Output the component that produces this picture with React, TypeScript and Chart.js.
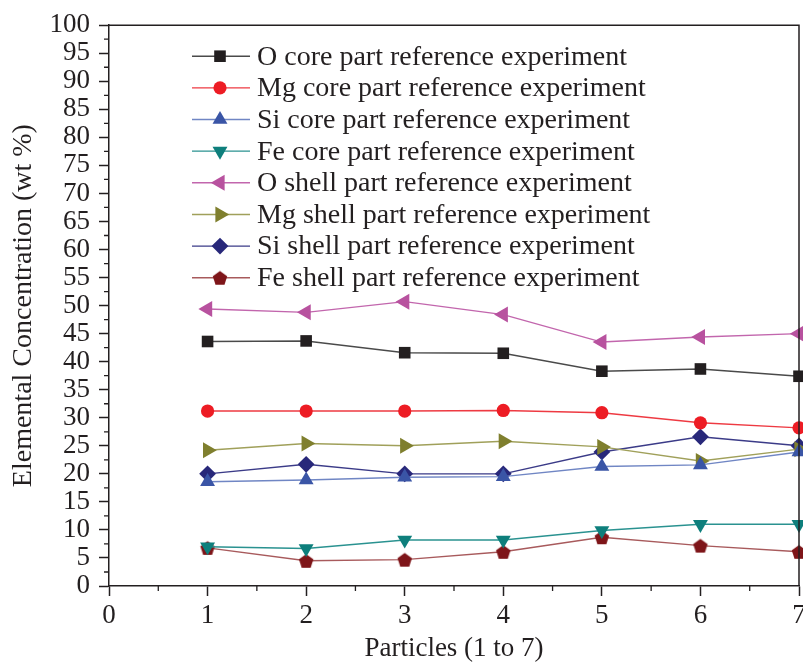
import React, { useEffect, useRef } from "react";
import { Chart, registerables } from "chart.js";

Chart.register(...registerables);

// ---- data ----
const particles = [1, 2, 3, 4, 5, 6, 7];
const xTickValues = [0, 1, 2, 3, 4, 5, 6, 7];
const seriesLabels = [
  "O core part reference experiment",
  "Mg core part reference experiment",
  "Si core part reference experiment",
  "Fe core part reference experiment",
  "O shell part reference experiment",
  "Mg shell part reference experiment",
  "Si shell part reference experiment",
  "Fe shell part reference experiment",
];
const oCore = [43.6, 43.7, 41.6, 41.5, 38.3, 38.7, 37.4];
const mgCore = [31.2, 31.2, 31.2, 31.3, 30.9, 29.1, 28.2];
const siCore = [18.6, 18.9, 19.4, 19.5, 21.3, 21.6, 23.9];
const feCore = [7.0, 6.7, 8.2, 8.2, 9.9, 11.0, 11.0];
const oShell = [49.4, 48.8, 50.7, 48.4, 43.5, 44.4, 45.0];
const mgShell = [24.2, 25.4, 25.0, 25.8, 24.8, 22.3, 24.4];
const siShell = [20.0, 21.7, 20.0, 20.0, 23.9, 26.6, 25.0];
const feShell = [6.8, 4.5, 4.7, 6.1, 8.7, 7.2, 6.1];
const seriesValues = [oCore, mgCore, siCore, feCore, oShell, mgShell, siShell, feShell];

// ---- styles ----
const markerColors = ["#231f20", "#ed1c24", "#3a55a6", "#0e7f7c", "#b8529f", "#7f7f2e", "#28287a", "#7e1519"];
const lineColors = ["#4a4a4a", "#ee3a42", "#7086c4", "#2a9290", "#c266ad", "#a0a05a", "#3b3b88", "#a85a5c"];
const markerStyles = ["rect", "circle", "triangle", "triangle", "triangle", "triangle", "rectRot", "pentagon"];
const markerRotations = [0, 0, 0, 180, -90, 90, 0, 0];
const markerRadii = [8.2, 6.6, 8.6, 8.6, 9.2, 9.2, 8.4, 7.6];

const FONT = "'Liberation Serif', 'Times New Roman', serif";
const INK = "#231f20";

function makePentagon(color: string, r: number): HTMLCanvasElement {
  const size = Math.ceil(r * 2 + 4);
  const c = document.createElement("canvas");
  c.width = size;
  c.height = size;
  const g = c.getContext("2d")!;
  g.fillStyle = color;
  g.beginPath();
  for (let i = 0; i < 5; i++) {
    const a = -Math.PI / 2 + (i * 2 * Math.PI) / 5;
    const px = size / 2 + Math.cos(a) * r;
    const py = size / 2 + 0.8 + Math.sin(a) * r;
    if (i === 0) g.moveTo(px, py);
    else g.lineTo(px, py);
  }
  g.closePath();
  g.fill();
  return c;
}

function drawMarker(ctx: CanvasRenderingContext2D, style: any, rotDeg: number, r: number, x: number, y: number, color: string) {
  ctx.save();
  ctx.fillStyle = color;
  ctx.beginPath();
  if (style instanceof HTMLCanvasElement) {
    ctx.drawImage(style, x - style.width / 2, y - style.height / 2);
    ctx.restore();
    return;
  }
  let rad = (rotDeg * Math.PI) / 180;
  if (style === "circle") {
    ctx.arc(x, y, r, 0, Math.PI * 2);
  } else if (style === "rect") {
    const s = r * Math.SQRT1_2;
    ctx.rect(x - s, y - s, 2 * s, 2 * s);
  } else if (style === "triangle") {
    ctx.moveTo(x + Math.sin(rad) * r, y - Math.cos(rad) * r);
    rad += (2 * Math.PI) / 3;
    ctx.lineTo(x + Math.sin(rad) * r, y - Math.cos(rad) * r);
    rad += (2 * Math.PI) / 3;
    ctx.lineTo(x + Math.sin(rad) * r, y - Math.cos(rad) * r);
    ctx.closePath();
  } else if (style === "rectRot") {
    ctx.moveTo(x - r, y);
    ctx.lineTo(x, y - r);
    ctx.lineTo(x + r, y);
    ctx.lineTo(x, y + r);
    ctx.closePath();
  }
  ctx.fill();
  ctx.restore();
}

const framePlugin = {
  id: "frameAndLegend",
  afterDraw(chart: any) {
    const ctx: CanvasRenderingContext2D = chart.ctx;
    const { left, right, top, bottom } = chart.chartArea;
    const xs = chart.scales.x;
    const ys = chart.scales.y;
    ctx.save();
    ctx.strokeStyle = INK;
    ctx.lineWidth = 1.5;
    // top and right frame
    ctx.beginPath();
    ctx.moveTo(left, top);
    ctx.lineTo(right, top);
    ctx.lineTo(right, bottom);
    ctx.stroke();
    // minor ticks
    ctx.lineWidth = 1.3;
    ctx.beginPath();
    for (let v = 2.5; v < 100; v += 5) {
      const py = ys.getPixelForValue(v);
      ctx.moveTo(left - 5, py);
      ctx.lineTo(left, py);
    }
    for (let v = 0.5; v < 7; v += 1) {
      const px = xs.getPixelForValue(v);
      ctx.moveTo(px, bottom);
      ctx.lineTo(px, bottom + 5);
    }
    ctx.stroke();

    // legend
    const datasets = chart.data.datasets;
    const lx0 = left + 83;
    const lx1 = left + 141;
    const mx = left + 111;
    const tx = left + 148;
    ctx.font = `28px ${FONT}`;
    ctx.textBaseline = "middle";
    ctx.textAlign = "left";
    datasets.forEach((ds: any, i: number) => {
      const y = top + 31 + i * 31.65;
      ctx.strokeStyle = ds.borderColor;
      ctx.lineWidth = 1.4;
      ctx.beginPath();
      ctx.moveTo(lx0, y);
      ctx.lineTo(lx1, y);
      ctx.stroke();
      drawMarker(ctx, ds.pointStyle, ds.rotation || 0, ds.pointRadius, mx, y, ds.pointBackgroundColor);
      ctx.fillStyle = INK;
      ctx.fillText(ds.label, tx, y + 1);
    });
    ctx.restore();
  },
};

export default function App() {
  const ref = useRef<HTMLCanvasElement>(null);

  useEffect(() => {
    if (!ref.current) return;
    const datasets = seriesLabels.map((label, i) => {
      const style: any = markerStyles[i] === "pentagon" ? makePentagon(markerColors[i], markerRadii[i]) : markerStyles[i];
      return {
        label,
        data: particles.map((p, j) => ({ x: p, y: seriesValues[i][j] })),
        borderColor: lineColors[i],
        borderWidth: 1.4,
        pointStyle: style,
        rotation: markerRotations[i],
        pointRotation: markerRotations[i],
        pointRadius: markerRadii[i],
        pointHoverRadius: markerRadii[i],
        pointBackgroundColor: markerColors[i],
        pointBorderColor: markerColors[i],
        pointBorderWidth: 0,
        fill: false,
        tension: 0,
        clip: false as any,
      };
    });

    const chart = new Chart(ref.current, {
      type: "line",
      data: { datasets: datasets as any },
      options: {
        animation: false,
        responsive: false,
        devicePixelRatio: 1,
        layout: { autoPadding: false, padding: { top: 24, right: 4, left: 0, bottom: 0 } },
        plugins: { legend: { display: false }, tooltip: { enabled: false } },
        scales: {
          x: {
            type: "linear",
            min: 0,
            max: 7,
            afterBuildTicks: (scale: any) => {
              scale.ticks = xTickValues.map((v) => ({ value: v }));
            },
            afterFit: (scale: any) => {
              scale.height = 76;
              scale.paddingLeft = 0;
              scale.paddingRight = 0;
            },
            ticks: {
              stepSize: 1,
              autoSkip: false,
              color: INK,
              padding: 4,
              font: { family: FONT, size: 27 },
              maxRotation: 0,
            },
            grid: { drawOnChartArea: false, drawTicks: true, tickLength: 10, tickWidth: 1.5, tickColor: INK },
            border: { display: true, color: INK, width: 1.5 },
            title: {
              display: true,
              text: "Particles (1 to 7)",
              color: INK,
              font: { family: FONT, size: 27, lineHeight: 1 },
              padding: { top: 0, bottom: 0 },
            },
          },
          y: {
            type: "linear",
            min: 0,
            max: 100,
            afterFit: (scale: any) => {
              scale.width = 109;
            },
            ticks: {
              stepSize: 5,
              autoSkip: false,
              color: INK,
              padding: 9,
              font: { family: FONT, size: 27 },
            },
            grid: { drawOnChartArea: false, drawTicks: true, tickLength: 10, tickWidth: 1.5, tickColor: INK },
            border: { display: true, color: INK, width: 1.5 },
            title: {
              display: true,
              text: "Elemental Concentration (wt %)",
              color: INK,
              font: { family: FONT, size: 28, lineHeight: 1 },
              padding: { top: 10, bottom: 0 },
            },
          },
        },
      },
      plugins: [framePlugin],
    });
    return () => chart.destroy();
  }, []);

  return (
    <div style={{ position: "absolute", left: 0, top: 0, width: 803, height: 662, background: "#fff" }}>
      <canvas ref={ref} width={803} height={662} style={{ display: "block", width: 803, height: 662 }} />
    </div>
  );
}
